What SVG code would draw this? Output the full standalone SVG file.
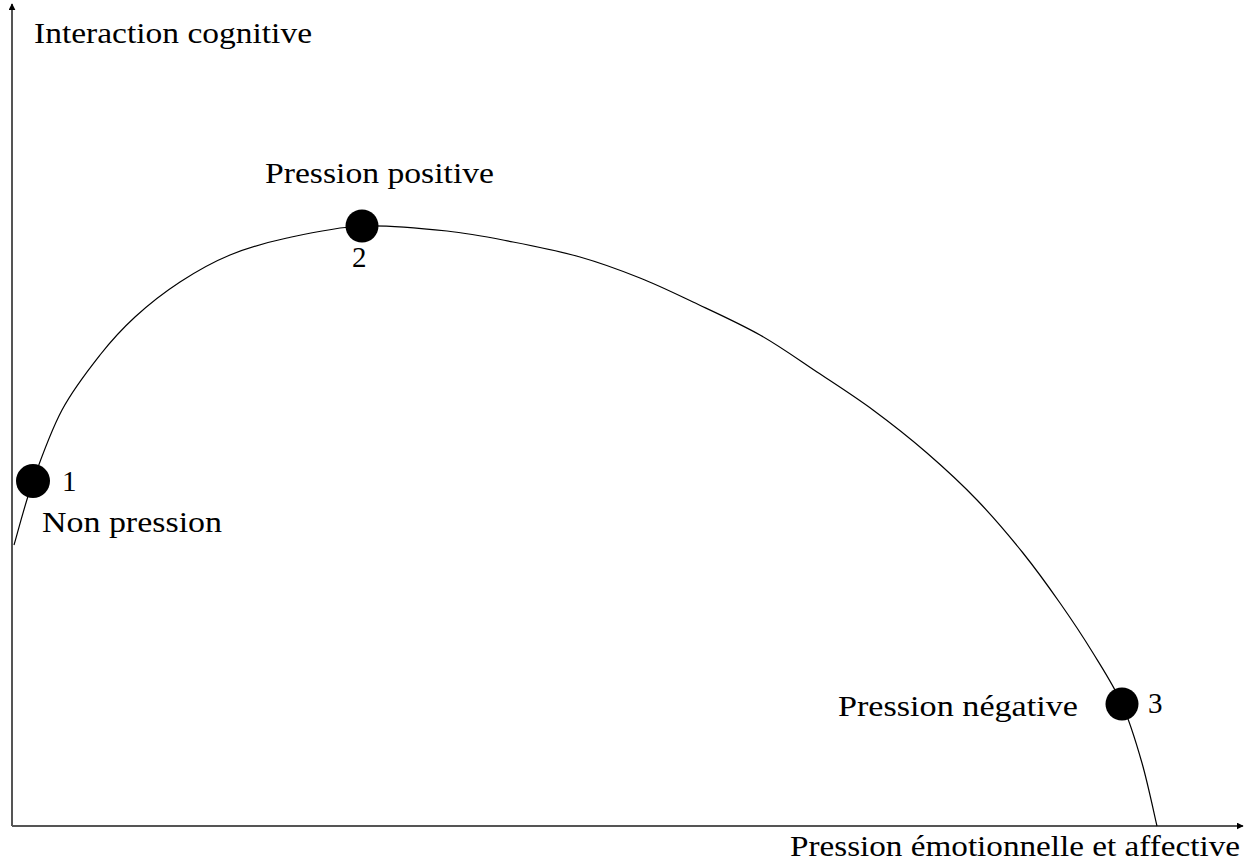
<svg xmlns="http://www.w3.org/2000/svg" width="1254" height="868" viewBox="0 0 1254 868">
<style>
.t{font-family:"Liberation Serif","Times New Roman",serif;font-size:29px;fill:#000}
.axis{stroke:#555;stroke-width:2;fill:none}
.dot{fill:#000}
</style>
<defs>
<marker id="ah" viewBox="0 0 10 10" refX="9" refY="5" markerWidth="7" markerHeight="7" markerUnits="userSpaceOnUse" orient="auto">
<path d="M0,0 L10,5 L0,10 z" fill="#000"/>
</marker>
</defs>
<rect width="1254" height="868" fill="#fff"/>
<g id="connectors">
<path class="axis" d="M12,826 L12,4" marker-end="url(#ah)"/>
<path class="axis" d="M12,826 L1243,826" stroke="#333" marker-end="url(#ah)"/>
<path fill="none" stroke="#000" stroke-width="1.2" d="M14,545 C17.2,534.3 25,503.5 33,481 C41,458.5 50.8,431 62,410 C73.2,389 87.8,370.5 100,355 C112.2,339.5 121.7,329.2 135,317 C148.3,304.8 164.2,292.3 180,282 C195.8,271.7 212.2,262.3 230,255 C247.8,247.7 265,242.8 287,238 C309,233.2 335.3,227.2 362,226 C388.7,224.8 421.8,228.3 447,231 C472.2,233.7 490.8,237.7 513,242 C535.2,246.3 558.8,251 580,257 C601.2,263 621.2,270.5 640,278 C658.8,285.5 673,292.5 693,302 C713,311.5 739.3,323.3 760,335 C780.7,346.7 798.2,359.5 817,372 C835.8,384.5 854.7,396.5 873,410 C891.3,423.5 909.7,438 927,453 C944.3,468 961,483.3 977,500 C993,516.7 1009.2,535.8 1023,553 C1036.8,570.2 1048.3,586.3 1060,603 C1071.7,619.7 1082.7,636.2 1093,653 C1103.3,669.8 1113.8,685.7 1122,704 C1130.2,722.3 1136.2,742.7 1142,763 C1147.8,783.3 1154.5,815.5 1157,826"/>
</g>
<g id="axis-y-label"><text class="t" x="34" y="43" textLength="278" lengthAdjust="spacingAndGlyphs">Interaction cognitive</text></g>
<g id="axis-x-label"><text class="t" x="790" y="856" textLength="450" lengthAdjust="spacingAndGlyphs">Pression émotionnelle et affective</text></g>
<g id="node1">
<circle class="dot" cx="33" cy="481" r="17"/>
<text class="t" x="62" y="491">1</text>
<text class="t" x="42" y="532" textLength="180" lengthAdjust="spacingAndGlyphs">Non pression</text>
</g>
<g id="node2">
<circle class="dot" cx="362" cy="226" r="16.5"/>
<text class="t" x="352" y="267">2</text>
<text class="t" x="265" y="183" textLength="229" lengthAdjust="spacingAndGlyphs">Pression positive</text>
</g>
<g id="node3">
<circle class="dot" cx="1122" cy="704" r="16.5"/>
<text class="t" x="1148" y="713">3</text>
<text class="t" x="838" y="716" textLength="240" lengthAdjust="spacingAndGlyphs">Pression négative</text>
</g>
</svg>
